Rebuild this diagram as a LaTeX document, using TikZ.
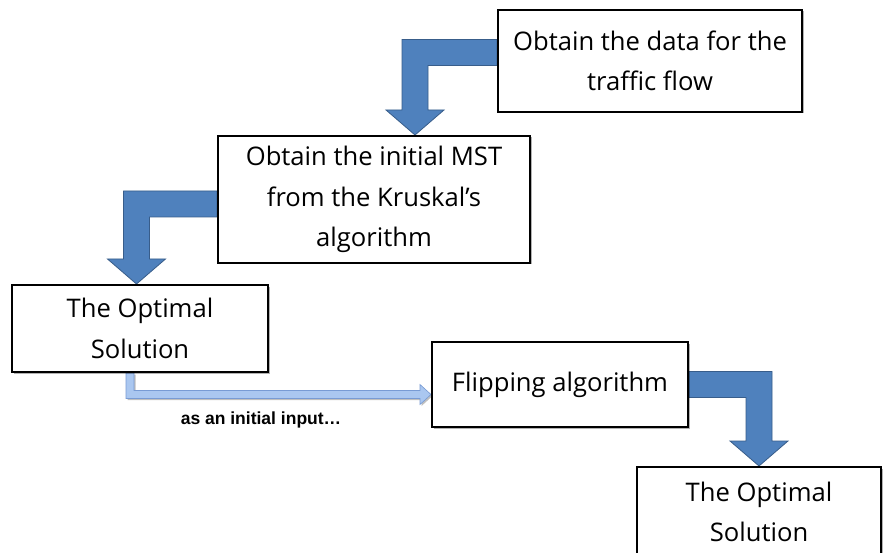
\documentclass[tikz,border=0pt]{standalone}
\usepackage{fontspec}
\setmainfont{Open Sans}
\newfontfamily\lblfont{Liberation Sans}
\usetikzlibrary{calc,backgrounds,shadows}
\definecolor{arrowfill}{RGB}{79,129,189}
\definecolor{arrowline}{RGB}{56,93,138}
\definecolor{lightfill}{RGB}{170,199,240}
\definecolor{lightline}{RGB}{120,155,212}
\tikzset{
  stepbox/.style={draw=black, line width=2pt, fill=white, inner sep=0pt, align=center,
    font=\fontsize{25.6}{40.5}\selectfont,
    drop shadow={shadow xshift=1.5pt, shadow yshift=-1.5pt, opacity=0.3, fill=black}},
  bigarrow/.style={fill=arrowfill, draw=arrowline, line width=0.8pt, line join=miter},
  thinarrow/.style={fill=lightfill, draw=lightline, line width=0.6pt, line join=miter,
    drop shadow={shadow xshift=1.5pt, shadow yshift=-1.5pt, opacity=0.25, fill=black}},
  note/.style={font=\lblfont\bfseries\fontsize{17.5}{20}\selectfont, inner sep=0pt}
}
% #1 start (on box side), #2 tip, #3 direction (1: leftwards then down, -1: rightwards then down)
\newcommand{\bentarrow}[3]{%
  \pgfmathsetmacro\bentw{13*#3}%
  \pgfmathsetmacro\benth{29*#3}%
  \path[bigarrow] ($(#1)+(0,-13)$) -| ($(#2)-(\bentw,25)$) -- ($(#2)-(\benth,25)$)
    -- (#2) -- ($(#2)+(\benth,-25)$) -- ($(#2)+(\bentw,-25)$) |- ($(#1)+(0,13)$) -- cycle;}
\begin{document}
\begin{tikzpicture}[x=1pt,y=-1pt]
\useasboundingbox (0,0) rectangle (883,553);
\clip (0,0) rectangle (883,553);

\node[stepbox, minimum width=304pt, minimum height=102pt] (b1) at (650,61)
  {Obtain the data for the\\traffic flow};
\node[stepbox, minimum width=312pt, minimum height=127pt] (b2) at (374,199.5)
  {Obtain the initial MST\\from the Kruskal’s\\algorithm};
\node[stepbox, minimum width=256pt, minimum height=87pt] (b3) at (140,328.5)
  {The Optimal\\Solution};
\node[stepbox, minimum width=256pt, minimum height=85pt] (b4) at (560,384.5)
  {Flipping algorithm};
\node[stepbox, minimum width=244pt, minimum height=90pt] (b5) at (759,512)
  {The Optimal\\Solution};
\node[note] (lbl) at (261,420) {as an initial input…};

\coordinate (a1s) at ($(b1.west)+(0,-8.5)$);
\coordinate (a1t) at ($(b2.north west)+(198,0)$);
\coordinate (a2s) at ($(b2.west)+(0,4.5)$);
\coordinate (a2t) at ($(b3.north west)+(125.5,0)$);
\coordinate (a3s) at (b4.east);
\coordinate (a3t) at (b5.north);
\coordinate (l1s) at ($(b3.south west)+(119,0)$);
\coordinate (l1e) at ($(b4.west)+(0,10)$);

\begin{pgfonlayer}{background}
  \fill[white] (0,0) rectangle (883,553);
  \bentarrow{a1s}{a1t}{1}
  \bentarrow{a2s}{a2t}{1}
  \bentarrow{a3s}{a3t}{-1}
  \path[thinarrow] ($(l1s)+(-4,0)$) |- ($(l1e)+(-11,4)$) -- ($(l1e)+(-11,10)$) -- (l1e)
    -- ($(l1e)+(-11,-10)$) -- ($(l1e)+(-11,-4)$) -| ($(l1s)+(4,0)$) -- cycle;
\end{pgfonlayer}
\end{tikzpicture}
\end{document}
